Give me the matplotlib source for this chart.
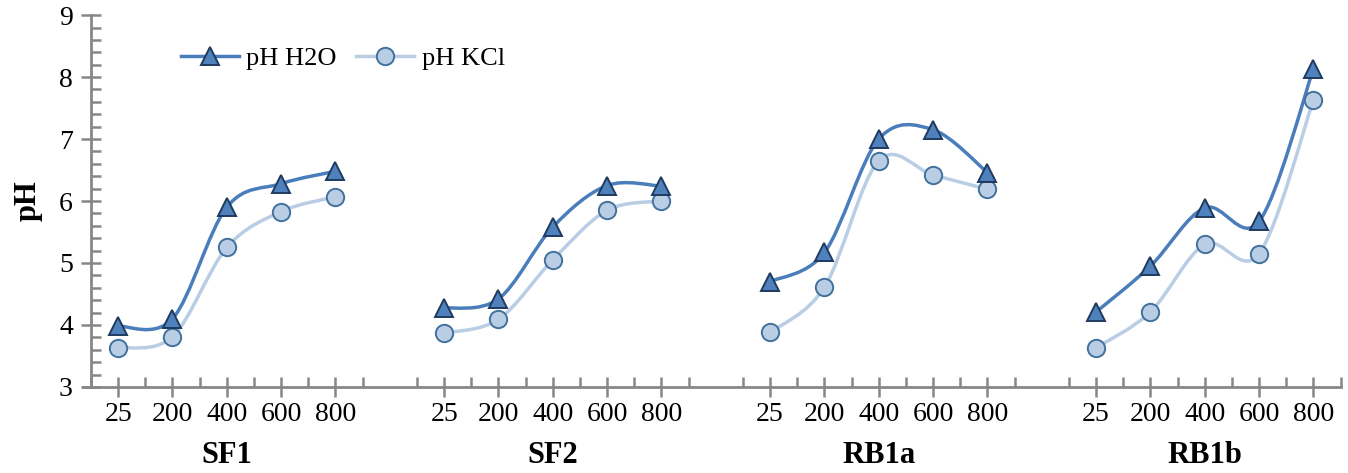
import numpy as np
import matplotlib.pyplot as plt
from matplotlib.path import Path
from matplotlib.patches import PathPatch
from matplotlib.lines import Line2D

plt.rcParams['font.family'] = ['Liberation Serif', 'DejaVu Serif']

groups = ['SF1', 'SF2', 'RB1a', 'RB1b']
temps = ['25', '200', '400', '600', '800']

ph_h2o = {
    'SF1': [3.98, 4.10, 5.90, 6.28, 6.48],
    'SF2': [4.27, 4.42, 5.58, 6.25, 6.24],
    'RB1a': [4.70, 5.17, 7.00, 7.15, 6.46],
    'RB1b': [4.21, 4.95, 5.89, 5.67, 8.13],
}
ph_kcl = {
    'SF1': [3.63, 3.81, 5.25, 5.83, 6.07],
    'SF2': [3.87, 4.09, 5.05, 5.85, 6.00],
    'RB1a': [3.88, 4.61, 6.65, 6.42, 6.19],
    'RB1b': [3.63, 4.21, 5.30, 5.15, 7.63],
}

c_h2o_line = '#4A7EBB'
c_h2o_face = '#4F81BD'
c_h2o_edge = '#1F3A5F'
c_kcl_line = '#B9CDE5'
c_kcl_face = '#B9CDE5'
c_kcl_edge = '#41719C'
axis_col = '#878787'


def smooth_path(x, y):
    # Excel-like smoothed line: cubic bezier with Catmull-Rom control points
    pts = np.column_stack([x, y])
    n = len(pts)
    verts = [pts[0]]
    codes = [Path.MOVETO]
    for i in range(n - 1):
        p0 = pts[i - 1] if i > 0 else pts[i]
        p1 = pts[i]
        p2 = pts[i + 1]
        p3 = pts[i + 2] if i + 2 < n else pts[i + 1]
        c1 = p1 + (p2 - p0) / 6.0
        c2 = p2 - (p3 - p1) / 6.0
        verts += [c1, c2, p2]
        codes += [Path.CURVE4] * 3
    return Path(verts, codes)


fig = plt.figure(figsize=(13.48, 4.73), dpi=100)
ax = fig.add_axes([0.0675, 0.182, 0.927, 0.786])

xticks = []
xlabels = []
for g_i, g in enumerate(groups):
    xs = np.arange(len(temps)) + g_i * (len(temps) + 1)
    xticks += list(xs)
    xlabels += temps
    for vals, lc, fc, ec, mk in [(ph_kcl[g], c_kcl_line, c_kcl_face, c_kcl_edge, 'o'),
                                 (ph_h2o[g], c_h2o_line, c_h2o_face, c_h2o_edge, '^')]:
        path = smooth_path(xs.astype(float), np.array(vals))
        ax.add_patch(PathPatch(path, facecolor='none', edgecolor=lc, lw=2.5, zorder=2))
        ax.plot(xs, vals, ls='none', marker=mk, ms=12.5, mfc=fc, mec=ec, mew=1.4, zorder=3)
    ax.text(xs[2], -0.185, g, transform=ax.get_xaxis_transform(), ha='center', va='center',
            fontsize=22, fontweight='bold')

ax.set_xlim(-0.5, 22.5)
ax.set_ylim(3, 9)
ax.set_xticks(xticks)
ax.set_xticklabels(xlabels, fontsize=20)
ax.set_xticks(np.arange(-0.5, 23, 1.0), minor=True)
ax.set_yticks(np.arange(3, 10, 1))
ax.set_yticklabels([str(v) for v in range(3, 10)], fontsize=20)
ax.set_yticks(np.arange(3, 9.01, 0.2), minor=True)
ax.set_ylabel('pH', fontsize=22, fontweight='bold', labelpad=12)

for s in ['top', 'right']:
    ax.spines[s].set_visible(False)
for s in ['left', 'bottom']:
    ax.spines[s].set_color(axis_col)
    ax.spines[s].set_linewidth(2)
ax.spines['bottom'].set_bounds(-0.65, 22.5)
ax.tick_params(axis='both', which='major', direction='inout', length=14, width=1.8, color=axis_col)
ax.tick_params(axis='x', which='major', pad=4)
ax.tick_params(axis='y', which='major', pad=6)
ax.tick_params(axis='both', which='minor', direction='in', length=7, width=1.8, color=axis_col)

handles = [
    Line2D([], [], color=c_h2o_line, lw=2.5, marker='^', ms=12.5, mfc=c_h2o_face, mec=c_h2o_edge, mew=1.4),
    Line2D([], [], color=c_kcl_line, lw=2.5, marker='o', ms=12.5, mfc=c_kcl_face, mec=c_kcl_edge, mew=1.4),
]
ax.legend(handles, ['pH H2O', 'pH KCl'], loc='upper left', bbox_to_anchor=(0.053, 0.98), ncol=2,
          frameon=False, fontsize=19, handlelength=2.2, columnspacing=0.75, handletextpad=0.27)

fig.savefig('out.png', dpi=100)
